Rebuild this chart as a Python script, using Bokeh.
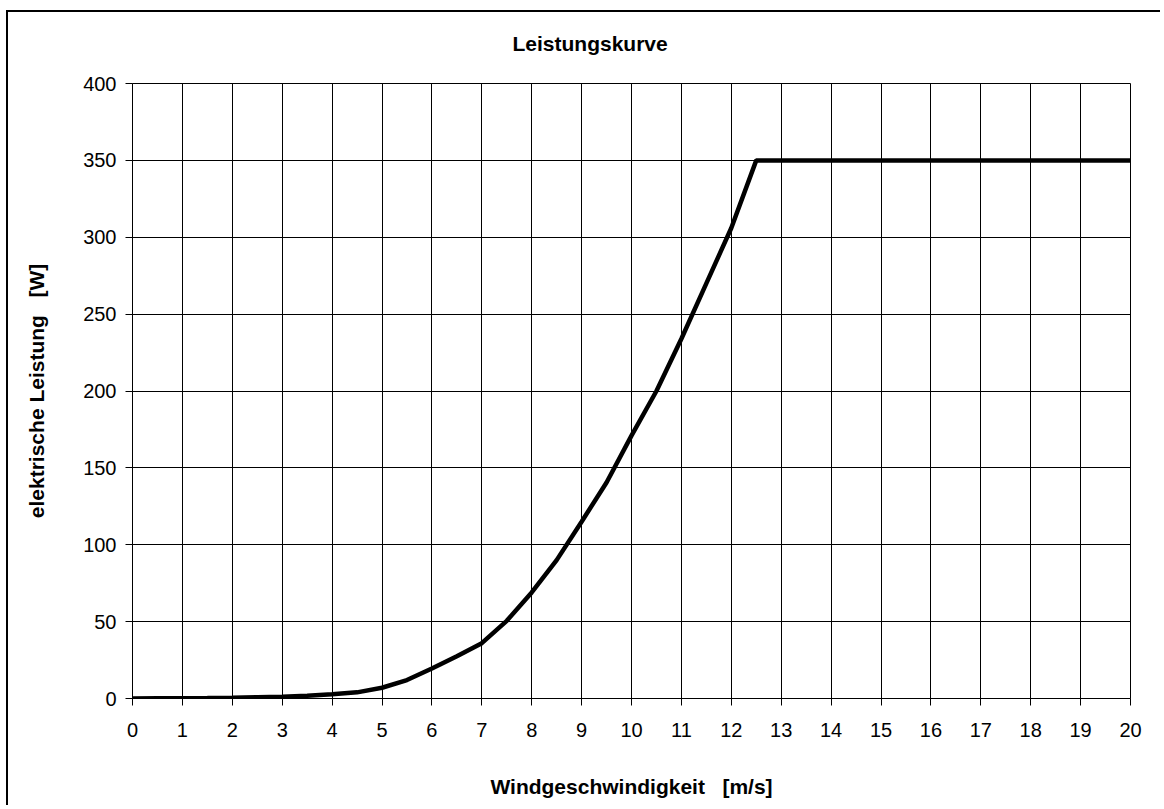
from bokeh.plotting import figure
from bokeh.models import Range1d, SingleIntervalTicker
from bokeh.embed import file_html
from bokeh.resources import INLINE

# Data (wind speed m/s -> electrical power W)
wind_speed = [0, 0.5, 1, 1.5, 2, 2.5, 3, 3.5, 4, 4.5, 5, 5.5, 6, 6.5, 7, 7.5,
              8, 8.5, 9, 9.5, 10, 10.5, 11, 11.5, 12, 12.5,
              13, 14, 15, 16, 17, 18, 19, 20]
power = [0, 0.1, 0.2, 0.3, 0.5, 0.8, 1.2, 1.8, 2.7, 4, 7, 12, 19.5, 27.5, 36, 50.5,
         69, 90, 115, 140.5, 171, 200, 234, 270, 306, 350,
         350, 350, 350, 350, 350, 350, 350, 350]

title_text = "Leistungskurve"
x_label = "Windgeschwindigkeit \u00a0 [m/s]"
y_label = "elektrische Leistung \u00a0 [W]"

FONT = "Liberation Sans"

p = figure(width=1160, height=805, output_backend="svg", toolbar_location=None,
           x_range=Range1d(0, 20), y_range=Range1d(0, 400),
           min_border_left=132, min_border_right=30, min_border_top=83, min_border_bottom=107)
# chart-area frame (left and top edges visible in the reference)
p.border_fill_color = None
p.background_fill_color = "white"
p.styles = {"background": "linear-gradient(#000,#000) 6px 10px / 2px 100% no-repeat, "
                          "linear-gradient(#000,#000) 6px 10px / 100% 2px no-repeat, #fff"}

p.line(wind_speed, power, line_color="black", line_width=4.5)

p.title.text = title_text
p.title.text_font = FONT
p.title.text_font_size = "21px"
p.title.text_font_style = "bold"
p.title.text_color = "black"
p.title.align = "left"
p.title.offset = 380
p.title.standoff = 57

p.outline_line_color = "black"
p.outline_line_width = 1

for ax in (p.xaxis[0], p.yaxis[0]):
    ax.axis_line_color = "black"
    ax.major_tick_line_color = "black"
    ax.major_tick_out = 7
    ax.major_tick_in = 0
    ax.minor_tick_line_color = None
    ax.major_label_text_font = FONT
    ax.major_label_text_font_size = "20px"
    ax.major_label_text_color = "black"
    ax.axis_label_text_font = FONT
    ax.axis_label_text_font_size = "21px"
    ax.axis_label_text_font_style = "bold"
    ax.axis_label_text_color = "black"

p.xaxis.ticker = SingleIntervalTicker(interval=1)
p.yaxis.ticker = SingleIntervalTicker(interval=50)
p.xaxis.axis_label = x_label
p.yaxis.axis_label = y_label
p.xaxis.major_label_standoff = 17
p.xaxis.axis_label_standoff = 35
p.yaxis.major_label_standoff = 9
p.yaxis.axis_label_standoff = 32

p.xgrid.ticker = SingleIntervalTicker(interval=1)
p.ygrid.ticker = SingleIntervalTicker(interval=50)
for g in (p.xgrid[0], p.ygrid[0]):
    g.grid_line_color = "black"
    g.grid_line_width = 1
    g.grid_line_alpha = 1

open("out.html", "w").write(file_html(p, INLINE))
